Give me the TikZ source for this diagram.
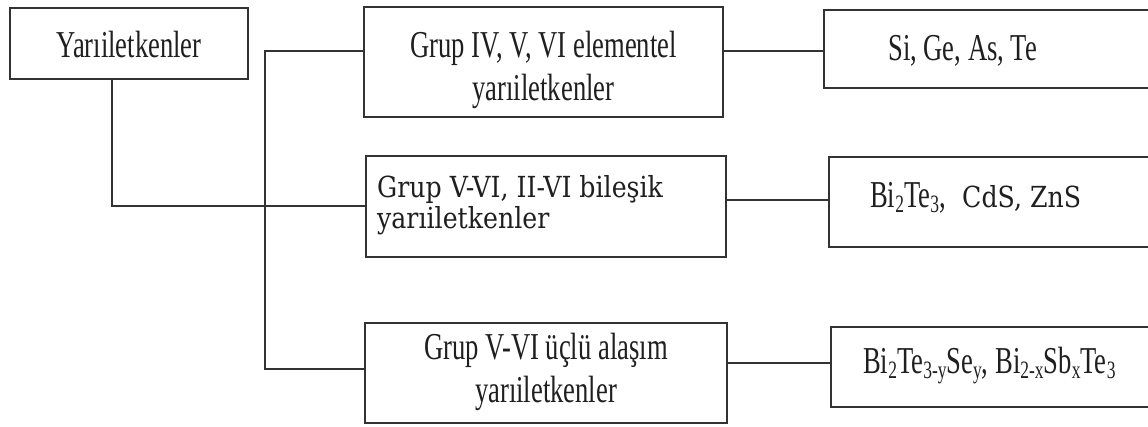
\documentclass[tikz,border=0pt]{standalone}
\usepackage{fontspec}
\setmainfont{Liberation Serif}[FakeStretch=0.7]
\newfontfamily\slabfont{DejaVu Serif}[FakeStretch=0.87]
\newcommand\chemsub[1]{\raisebox{-5pt}{\fontsize{25}{25}\selectfont #1}}
\begin{document}
\begin{tikzpicture}[x=1pt,y=-1pt,
  box/.style={draw=black!80,line width=1.8pt,minimum width=#1,inner sep=0pt,outer sep=0pt,anchor=center},
  link/.style={draw=black!80,line width=1.8pt},
  serif/.style={text=black!88,inner sep=0pt,font=\fontsize{38}{43}\selectfont},
  slab/.style={text=black!88,inner sep=0pt,font=\slabfont\fontsize{29}{29}\selectfont}]
\useasboundingbox (0,0) rectangle (1148,426);
\clip (0,0) rectangle (1148,426);

% boxes
\node[box=238pt,minimum height=71pt] (yari) at (129,43.5) {};
\node[box=359pt,minimum height=110pt] (b1) at (543.5,62) {};
\node[box=360pt,minimum height=101pt] (b2) at (546,206.5) {};
\node[box=362pt,minimum height=100pt] (b3) at (546,373) {};
\node[box=336pt,minimum height=78pt] (b4) at (992,49) {};
\node[box=331pt,minimum height=90pt] (b5) at (994.5,202) {};
\node[box=329pt,minimum height=80pt] (b6) at (995.5,367) {};

% texts
\node[serif,anchor=base] (t0) at (129,57) {Yarıiletkenler};
\node[serif,anchor=base] (t1a) at (543.5,57) {Grup IV, V, VI elementel};
\node[serif,anchor=base] (t1b) at (543.5,100) {yarıiletkenler};
\node[slab,anchor=base west] (t2a) at (377,197) {Grup V-VI, II-VI bileşik};
\node[slab,anchor=base west] (t2b) at (377,228) {yarıiletkenler};
\node[serif,anchor=base] (t3a) at (546,359) {Grup V-VI üçlü alaşım};
\node[serif,anchor=base] (t3b) at (546,402) {yarıiletkenler};
\node[serif,anchor=base west] (t4) at (888,60) {Si, Ge, As, Te};
\node[serif,anchor=base west] (t5) at (870,207) {\makebox[92pt][l]{Bi\chemsub{2}Te\chemsub{3},}{\slabfont\fontsize{29}{29}\selectfont CdS, ZnS}};
\node[serif,anchor=base west] (t6) at (863,373) {Bi\chemsub{2}Te\chemsub{3-y}Se\chemsub{y}, Bi\chemsub{2-x}Sb\chemsub{x}Te\chemsub{3}};

% junction points of the tree
\coordinate (j1) at (112,206);
\coordinate (tr1) at (265,51);
\coordinate (tr2) at (265,369);
\coordinate (r1) at (770,51);
\coordinate (r2) at (775,200);
\coordinate (r3) at (780,363);

% connectors
\draw[link] (yari.south -| j1) -- (j1) -- (j1 -| b2.west);
\draw[link] (tr1 -| b1.west) -- (tr1) -- (tr2) -- (tr2 -| b3.west);
\draw[link] (r1 -| b1.east) -- (r1 -| b4.west);
\draw[link] (r2 -| b2.east) -- (r2 -| b5.west);
\draw[link] (r3 -| b3.east) -- (r3 -| b6.west);
\end{tikzpicture}
\end{document}
